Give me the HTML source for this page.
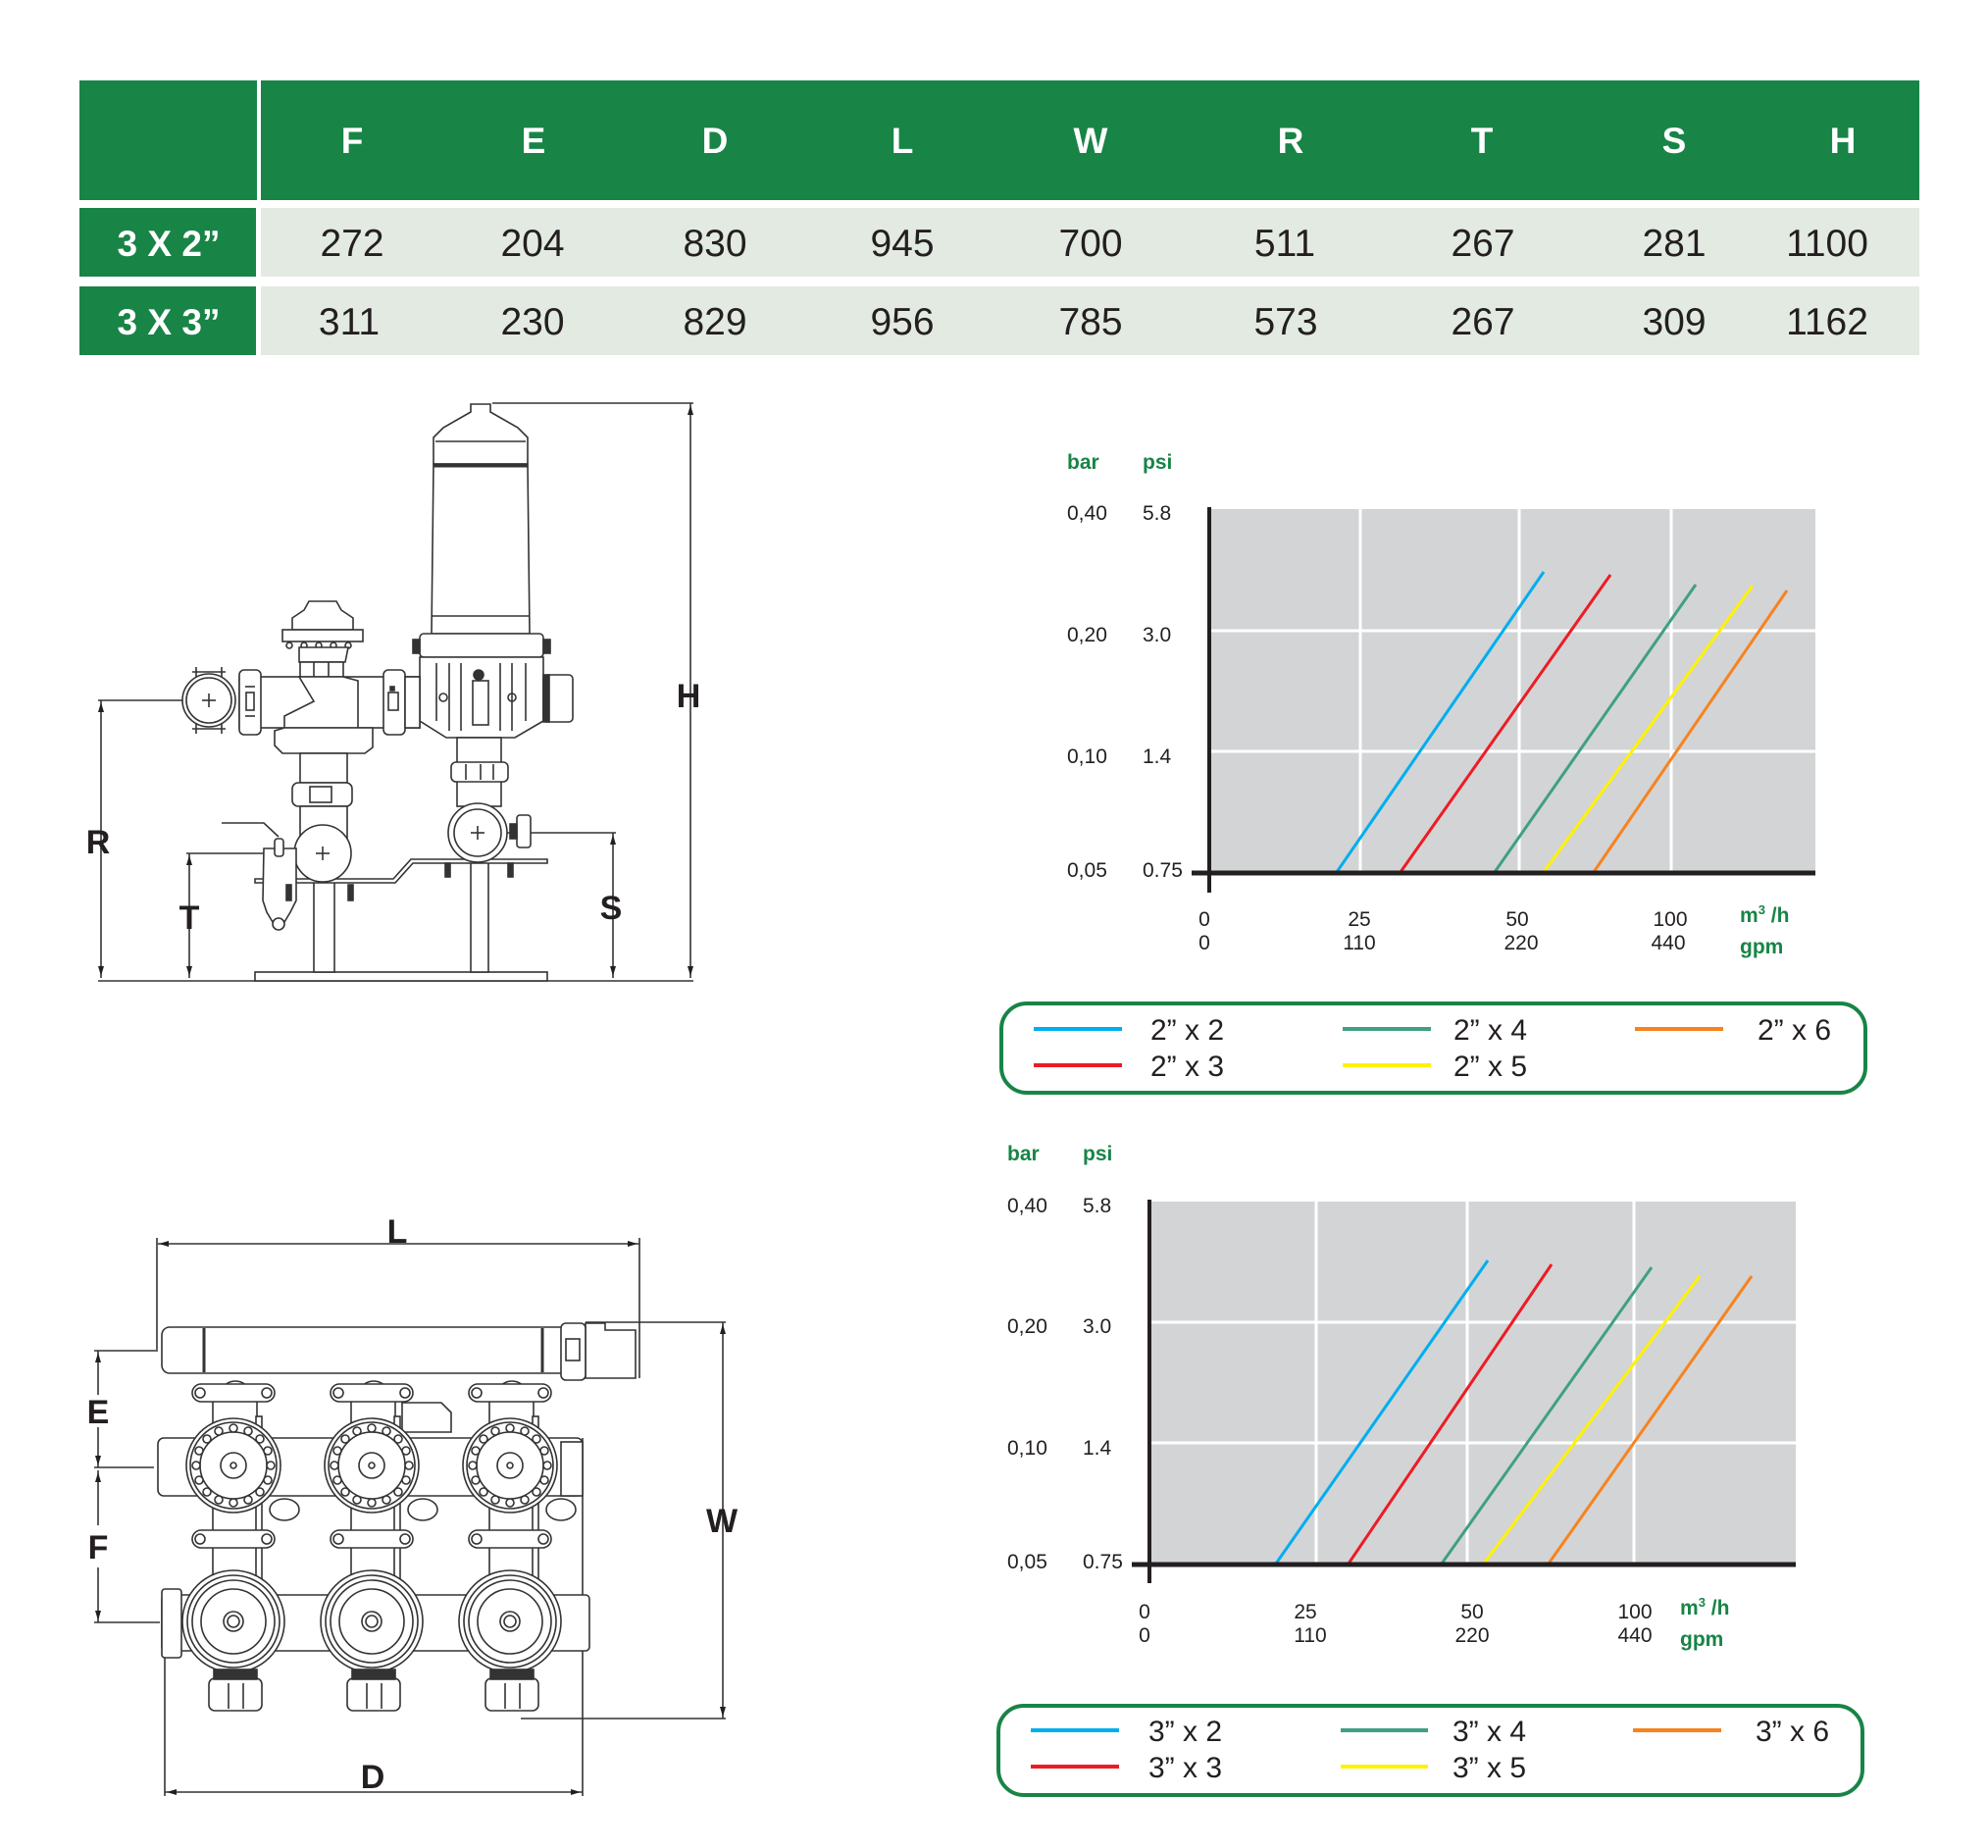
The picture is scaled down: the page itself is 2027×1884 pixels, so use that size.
<!DOCTYPE html>
<html><head><meta charset="utf-8"><style>
html,body{margin:0;padding:0;background:#fff;}
svg{display:block;}
</style></head><body>
<svg width="2027" height="1884" viewBox="0 0 2027 1884" xmlns="http://www.w3.org/2000/svg" font-family="Liberation Sans, Arial, sans-serif">
<rect width="2027" height="1884" fill="#fff"/>
<!-- TABLE -->
<rect x="81" y="82" width="1876" height="122" fill="#188446"/>
<rect x="262" y="82" width="4" height="122" fill="#fff"/>
<rect x="81" y="212" width="180" height="70" fill="#188446"/>
<rect x="266" y="212" width="1691" height="70" fill="#e3eae1"/>
<rect x="81" y="292" width="180" height="70" fill="#188446"/>
<rect x="266" y="292" width="1691" height="70" fill="#e3eae1"/>
<g fill="#fff" font-weight="bold" font-size="37" text-anchor="middle">
<text x="359" y="156">F</text><text x="544" y="156">E</text><text x="729" y="156">D</text><text x="920" y="156">L</text><text x="1112" y="156">W</text><text x="1316" y="156">R</text><text x="1511" y="156">T</text><text x="1707" y="156">S</text><text x="1879" y="156">H</text>
<text x="172" y="261">3 X 2”</text><text x="172" y="341">3 X 3”</text>
</g>
<g fill="#231f20" font-size="39" text-anchor="middle">
<text x="359" y="261">272</text><text x="543" y="261">204</text><text x="729" y="261">830</text><text x="920" y="261">945</text><text x="1112" y="261">700</text><text x="1310" y="261">511</text><text x="1512" y="261">267</text><text x="1707" y="261">281</text><text x="1863" y="261">1100</text>
<text x="356" y="341">311</text><text x="543" y="341">230</text><text x="729" y="341">829</text><text x="920" y="341">956</text><text x="1112" y="341">785</text><text x="1311" y="341">573</text><text x="1512" y="341">267</text><text x="1707" y="341">309</text><text x="1863" y="341">1162</text>
</g>

<!-- CHART 1 -->
<rect x="1233" y="519" width="618" height="371" fill="#d3d4d6"/>
<g stroke="#fff" stroke-width="3">
<line x1="1387" y1="519" x2="1387" y2="890"/><line x1="1549" y1="519" x2="1549" y2="890"/><line x1="1704" y1="519" x2="1704" y2="890"/>
<line x1="1233" y1="643" x2="1851" y2="643"/><line x1="1233" y1="766" x2="1851" y2="766"/>
</g>
<g stroke-width="3">
<line x1="1363" y1="889" x2="1574" y2="583" stroke="#00aeef"/>
<line x1="1428" y1="889" x2="1642" y2="586" stroke="#ed1c24"/>
<line x1="1524" y1="889" x2="1729" y2="596" stroke="#3fa083"/>
<line x1="1574" y1="889" x2="1787" y2="597" stroke="#fff200"/>
<line x1="1625" y1="889" x2="1822" y2="602" stroke="#f7831f"/>
</g>
<line x1="1233" y1="517" x2="1233" y2="910" stroke="#231f20" stroke-width="4"/>
<line x1="1215" y1="890" x2="1851" y2="890" stroke="#231f20" stroke-width="5"/>
<g fill="#188446" font-weight="bold" font-size="21">
<text x="1088" y="478">bar</text><text x="1165" y="478">psi</text>
<text x="1774" y="940">m<tspan font-size="13" dy="-8">3</tspan><tspan dy="8"> /h</tspan></text><text x="1774" y="972">gpm</text>
</g>
<g fill="#231f20" font-size="21">
<text x="1088" y="530">0,40</text><text x="1165" y="530">5.8</text>
<text x="1088" y="654">0,20</text><text x="1165" y="654">3.0</text>
<text x="1088" y="778">0,10</text><text x="1165" y="778">1.4</text>
<text x="1088" y="894">0,05</text><text x="1165" y="894">0.75</text>
<g text-anchor="middle">
<text x="1228" y="944">0</text><text x="1228" y="968">0</text>
<text x="1386" y="944">25</text><text x="1386" y="968">110</text>
<text x="1547" y="944">50</text><text x="1551" y="968">220</text>
<text x="1703" y="944">100</text><text x="1701" y="968">440</text>
</g></g>
<rect x="1021" y="1023" width="881" height="91" rx="26" fill="none" stroke="#188446" stroke-width="4"/>
<g stroke-width="4">
<line x1="1054" y1="1049" x2="1144" y2="1049" stroke="#00aeef"/>
<line x1="1054" y1="1086" x2="1144" y2="1086" stroke="#ed1c24"/>
<line x1="1369" y1="1049" x2="1459" y2="1049" stroke="#3fa083"/>
<line x1="1369" y1="1086" x2="1459" y2="1086" stroke="#fff200"/>
<line x1="1667" y1="1049" x2="1757" y2="1049" stroke="#f7831f"/>
</g>
<g fill="#231f20" font-size="30">
<text x="1173" y="1060">2” x 2</text><text x="1173" y="1097">2” x 3</text>
<text x="1482" y="1060">2” x 4</text><text x="1482" y="1097">2” x 5</text>
<text x="1792" y="1060">2” x 6</text>
</g>

<!-- CHART 2 -->
<rect x="1172" y="1225" width="659" height="370" fill="#d3d4d6"/>
<g stroke="#fff" stroke-width="3">
<line x1="1342" y1="1225" x2="1342" y2="1595"/><line x1="1496" y1="1225" x2="1496" y2="1595"/><line x1="1666" y1="1225" x2="1666" y2="1595"/>
<line x1="1172" y1="1348" x2="1831" y2="1348"/><line x1="1172" y1="1471" x2="1831" y2="1471"/>
</g>
<g stroke-width="3">
<line x1="1301" y1="1594" x2="1517" y2="1285" stroke="#00aeef"/>
<line x1="1375" y1="1594" x2="1582" y2="1289" stroke="#ed1c24"/>
<line x1="1470" y1="1594" x2="1684" y2="1292" stroke="#3fa083"/>
<line x1="1513" y1="1594" x2="1733" y2="1301" stroke="#fff200"/>
<line x1="1579" y1="1594" x2="1786" y2="1301" stroke="#f7831f"/>
</g>
<line x1="1172" y1="1223" x2="1172" y2="1614" stroke="#231f20" stroke-width="4"/>
<line x1="1154" y1="1595" x2="1831" y2="1595" stroke="#231f20" stroke-width="5"/>
<g fill="#188446" font-weight="bold" font-size="21">
<text x="1027" y="1183">bar</text><text x="1104" y="1183">psi</text>
<text x="1713" y="1646">m<tspan font-size="13" dy="-8">3</tspan><tspan dy="8"> /h</tspan></text><text x="1713" y="1678">gpm</text>
</g>
<g fill="#231f20" font-size="21">
<text x="1027" y="1236">0,40</text><text x="1104" y="1236">5.8</text>
<text x="1027" y="1359">0,20</text><text x="1104" y="1359">3.0</text>
<text x="1027" y="1483">0,10</text><text x="1104" y="1483">1.4</text>
<text x="1027" y="1599">0,05</text><text x="1104" y="1599">0.75</text>
<g text-anchor="middle">
<text x="1167" y="1650">0</text><text x="1167" y="1674">0</text>
<text x="1331" y="1650">25</text><text x="1336" y="1674">110</text>
<text x="1501" y="1650">50</text><text x="1501" y="1674">220</text>
<text x="1667" y="1650">100</text><text x="1667" y="1674">440</text>
</g></g>
<rect x="1018" y="1739" width="881" height="91" rx="26" fill="none" stroke="#188446" stroke-width="4"/>
<g stroke-width="4">
<line x1="1051" y1="1764" x2="1141" y2="1764" stroke="#00aeef"/>
<line x1="1051" y1="1801" x2="1141" y2="1801" stroke="#ed1c24"/>
<line x1="1367" y1="1764" x2="1456" y2="1764" stroke="#3fa083"/>
<line x1="1367" y1="1801" x2="1456" y2="1801" stroke="#fff200"/>
<line x1="1665" y1="1764" x2="1755" y2="1764" stroke="#f7831f"/>
</g>
<g fill="#231f20" font-size="30">
<text x="1171" y="1775">3” x 2</text><text x="1171" y="1812">3” x 3</text>
<text x="1481" y="1775">3” x 4</text><text x="1481" y="1812">3” x 5</text>
<text x="1790" y="1775">3” x 6</text>
</g>

<!-- DRAWING 1 (side view) -->
<g fill="none" stroke="#333" stroke-width="1.6">
<!-- dims -->
<line x1="502" y1="411" x2="707" y2="411"/><line x1="704" y1="411" x2="704" y2="997"/>
<line x1="100" y1="1000" x2="707" y2="1000"/>
<line x1="100" y1="714" x2="213" y2="714"/><line x1="103" y1="714" x2="103" y2="997"/>
<line x1="190" y1="870" x2="329" y2="870"/><line x1="193" y1="870" x2="193" y2="997"/>
<line x1="487" y1="849" x2="628" y2="849"/><line x1="625" y1="849" x2="625" y2="997"/>
<!-- base -->
<rect x="260" y="991" width="298" height="9" fill="#fff"/>
<!-- stands -->
<rect x="320" y="898" width="21" height="93" fill="#fff"/>
<rect x="480" y="878" width="18" height="113" fill="#fff"/>
<!-- plate -->
<path d="M260 896 L401 896 L419 876 L558 876 L558 880 L421 880 L403 900 L260 900 Z" fill="#fff"/>
<!-- filter top -->
<path d="M480 412 L500 412 L500 420 L528 436 L538 446 L538 473 L442 473 L442 446 L452 436 L480 420 Z" fill="#fff"/>
<line x1="444" y1="450" x2="536" y2="450"/>
<path d="M442 473 L538 473 L540 646 L440 646 Z" fill="#fff"/>
<line x1="442" y1="475" x2="538" y2="475" stroke-width="3"/>
<line x1="440" y1="628" x2="540" y2="628"/>
<rect x="428" y="646" width="126" height="24" rx="4" fill="#fff"/>
<rect x="421" y="652" width="7" height="14" fill="#333"/><rect x="554" y="652" width="7" height="14" fill="#333"/>
<path d="M428 670 L554 670 L554 735 L525 752 L455 752 L428 735 Z" fill="#fff"/>
<line x1="445" y1="676" x2="445" y2="735"/><line x1="458" y1="676" x2="458" y2="745"/><line x1="470" y1="676" x2="470" y2="745"/><line x1="510" y1="676" x2="510" y2="745"/><line x1="522" y1="676" x2="522" y2="745"/><line x1="536" y1="676" x2="536" y2="735"/>
<rect x="482" y="694" width="16" height="45"/>
<circle cx="488" cy="688" r="5" fill="#333"/>
<circle cx="452" cy="711" r="4"/><circle cx="522" cy="711" r="4"/>
<rect x="554" y="688" width="30" height="48" rx="4" fill="#fff"/><rect x="554" y="688" width="6" height="48" fill="#333"/>
<rect x="466" y="752" width="45" height="70" fill="#fff"/>
<rect x="460" y="777" width="58" height="20" rx="5" fill="#fff"/>
<line x1="475" y1="779" x2="475" y2="795"/><line x1="490" y1="779" x2="490" y2="795"/><line x1="503" y1="779" x2="503" y2="795"/>
<!-- right circle -->
<circle cx="487" cy="849" r="30" fill="#fff"/><circle cx="487" cy="849" r="24"/>
<line x1="480" y1="849" x2="494" y2="849"/><line x1="487" y1="842" x2="487" y2="856"/>
<rect x="527" y="831" width="14" height="33" rx="3" fill="#fff"/><rect x="520" y="840" width="7" height="15" fill="#333"/>
<rect x="454" y="880" width="5" height="14" fill="#333"/><rect x="518" y="880" width="5" height="14" fill="#333"/>
<!-- left manifold pipe -->
<rect x="244" y="690" width="184" height="52" fill="#fff"/>
<rect x="244" y="683" width="22" height="66" rx="5" fill="#fff"/>
<rect x="391" y="683" width="22" height="66" rx="5" fill="#fff"/>
<rect x="413" y="690" width="15" height="52" fill="#fff"/>
<line x1="250" y1="700" x2="260" y2="700"/><line x1="250" y1="730" x2="260" y2="730"/><rect x="251" y="706" width="8" height="18"/>
<rect x="396" y="706" width="10" height="18"/><rect x="398" y="700" width="4" height="4" fill="#333"/>
<!-- left circle & flange -->
<circle cx="213" cy="714" r="27" fill="#fff"/><circle cx="213" cy="714" r="23"/>
<line x1="206" y1="714" x2="220" y2="714"/><line x1="213" y1="707" x2="213" y2="721"/>
<path d="M196 685 L230 685 M196 743 L230 743 M200 680 L200 690 M226 680 L226 690 M200 738 L200 748 M226 738 L226 748"/>
<!-- valve -->
<path d="M315 613 L343 613 L348 622 L360 630 L360 642 L298 642 L298 630 L310 622 Z" fill="#fff"/>
<rect x="288" y="642" width="82" height="12" fill="#fff"/>
<circle cx="295" cy="658" r="3"/><circle cx="310" cy="658" r="3"/><circle cx="325" cy="658" r="3"/><circle cx="340" cy="658" r="3"/><circle cx="355" cy="658" r="3"/>
<path d="M305 660 L355 660 L352 675 L305 675 Z" fill="#fff"/>
<rect x="306" y="675" width="44" height="15" fill="#fff"/>
<line x1="320" y1="675" x2="320" y2="690"/><line x1="335" y1="675" x2="335" y2="690"/>
<path d="M305 690 L350 690 L365 694 L365 742 L290 742 L290 730 L320 715 Z" fill="#fff"/>
<path d="M290 742 L380 742 L380 762 L372 768 L288 768 L280 760 L280 745 Z" fill="#fff"/>
<rect x="306" y="768" width="48" height="30" fill="#fff"/>
<rect x="298" y="798" width="61" height="24" rx="6" fill="#fff"/>
<rect x="316" y="802" width="22" height="16"/>
<rect x="306" y="822" width="48" height="38" fill="#fff"/>
<circle cx="329" cy="870" r="29" fill="#fff"/>
<line x1="322" y1="870" x2="336" y2="870"/><line x1="329" y1="863" x2="329" y2="877"/>
<!-- air valve -->
<path d="M269 865 L302 865 L302 918 L296 930 L290 940 L278 940 L272 930 L268 918 Z" fill="#fff"/>
<circle cx="284" cy="942" r="6" fill="#fff"/>
<rect x="280" y="855" width="9" height="18" rx="3" fill="#fff"/>
<polyline points="226,839 269,839 284,853"/>
<rect x="292" y="902" width="5" height="16" fill="#333"/><rect x="355" y="902" width="5" height="16" fill="#333"/>
</g>
<g fill="#231f20" font-weight="bold" font-size="34" text-anchor="middle">
<text x="702" y="721">H</text><text x="100" y="870">R</text><text x="193" y="947">T</text><text x="623" y="937">S</text>
</g>
<g fill="#231f20">
<path d="M704 413 l-3 10 h6z M704 995 l-3 -10 h6z M103 716 l-3 10 h6z M103 995 l-3 -10 h6z M193 872 l-3 10 h6z M193 995 l-3 -10 h6z M625 851 l-3 10 h6z M625 995 l-3 -10 h6z"/>
</g>

<!-- DRAWING 2 (top view) -->
<defs>
<g id="unit">
<rect x="-21" y="-74" width="45" height="210" fill="#fff"/>
<rect x="23" y="-50" width="6" height="175" fill="#fff"/>
<path d="M-12 -74 a14 12 0 0 1 28 0" fill="#fff"/>
<rect x="-42" y="-83" width="84" height="18" rx="9" fill="#fff"/>
<circle cx="-34" cy="-74" r="5"/><circle cx="34" cy="-74" r="5"/>
<circle cx="0" cy="0" r="48" fill="#fff"/>
<circle cx="0" cy="0" r="44"/>
<circle cx="0" cy="0" r="34"/>
<g fill="#fff"><circle cx="38" cy="0" r="4"/><circle cx="-38" cy="0" r="4"/><circle cx="0" cy="38" r="4"/><circle cx="0" cy="-38" r="4"/><circle cx="27" cy="27" r="4"/><circle cx="-27" cy="27" r="4"/><circle cx="27" cy="-27" r="4"/><circle cx="-27" cy="-27" r="4"/><circle cx="35" cy="15" r="4"/><circle cx="-35" cy="15" r="4"/><circle cx="35" cy="-15" r="4"/><circle cx="-35" cy="-15" r="4"/><circle cx="15" cy="35" r="4"/><circle cx="-15" cy="35" r="4"/><circle cx="15" cy="-35" r="4"/><circle cx="-15" cy="-35" r="4"/></g>
<circle cx="0" cy="0" r="13"/><circle cx="0" cy="0" r="3"/>
<ellipse cx="52" cy="45" rx="15" ry="11" fill="#fff"/>
<rect x="-42" y="66" width="84" height="18" rx="9" fill="#fff"/>
<circle cx="-34" cy="75" r="5"/><circle cx="34" cy="75" r="5"/>
<circle cx="0" cy="159" r="52" fill="#fff"/>
<circle cx="0" cy="159" r="47"/><circle cx="0" cy="159" r="42"/><circle cx="0" cy="159" r="33"/>
<circle cx="0" cy="159" r="10"/><circle cx="0" cy="159" r="6"/>
<rect x="-25" y="217" width="54" height="33" rx="6" fill="#fff"/>
<rect x="-20" y="208" width="44" height="10" fill="#333"/>
<line x1="-5" y1="222" x2="-5" y2="248"/><line x1="10" y1="222" x2="10" y2="248"/>
</g>
</defs>
<g fill="none" stroke="#333" stroke-width="1.6">
<!-- dims -->
<line x1="161" y1="1268" x2="652" y2="1268"/><line x1="160" y1="1262" x2="160" y2="1376"/><line x1="652" y1="1262" x2="652" y2="1405"/>
<line x1="597" y1="1348" x2="740" y2="1348"/><line x1="531" y1="1752" x2="740" y2="1752"/><line x1="737" y1="1348" x2="737" y2="1752"/>
<line x1="96" y1="1377" x2="161" y2="1377"/><line x1="96" y1="1496" x2="157" y2="1496"/><line x1="96" y1="1654" x2="163" y2="1654"/>
<line x1="100" y1="1377" x2="100" y2="1422"/><line x1="100" y1="1455" x2="100" y2="1496"/>
<line x1="100" y1="1499" x2="100" y2="1555"/><line x1="100" y1="1598" x2="100" y2="1654"/>
<line x1="168" y1="1687" x2="168" y2="1831"/><line x1="594" y1="1466" x2="594" y2="1831"/><line x1="168" y1="1827" x2="594" y2="1827"/>
<!-- top pipe -->
<rect x="165" y="1353" width="452" height="47" rx="8" fill="#fff"/>
<line x1="208" y1="1354" x2="208" y2="1399" stroke-width="3"/><line x1="553" y1="1354" x2="553" y2="1399" stroke-width="3"/>
<path d="M597 1349 L617 1349 L617 1356 L648 1356 L648 1405 L617 1405 L597 1405 Z" fill="#fff"/>
<rect x="572" y="1349" width="25" height="58" rx="5" fill="#fff"/><rect x="577" y="1365" width="14" height="22"/>
<!-- manifolds -->
<rect x="161" y="1466" width="433" height="59" rx="6" fill="#fff"/>
<rect x="165" y="1626" width="436" height="57" rx="4" fill="#fff"/>
<rect x="165" y="1620" width="20" height="70" rx="3" fill="#fff"/>
<rect x="572" y="1470" width="22" height="55" fill="#fff"/>
<path d="M410 1430 L450 1430 L460 1440 L460 1460 L410 1460 Z" fill="#fff"/>
<use href="#unit" x="238" y="1494"/>
<use href="#unit" x="379" y="1494"/>
<use href="#unit" x="520" y="1494"/>
</g>
<g fill="#231f20" font-weight="bold" font-size="34" text-anchor="middle">
<text x="405" y="1267">L</text><text x="736" y="1562">W</text><text x="100" y="1451">E</text><text x="100" y="1589">F</text><text x="380" y="1823">D</text>
</g>
<g fill="#231f20">
<path d="M162 1268 l10 -3 v6z M650 1268 l-10 -3 v6z M737 1350 l-3 10 h6z M737 1750 l-3 -10 h6z M100 1379 l-3 10 h6z M100 1494 l-3 -10 h6z M100 1501 l-3 10 h6z M100 1652 l-3 -10 h6z M170 1827 l10 -3 v6z M592 1827 l-10 -3 v6z"/>
</g>
</svg>
</body></html>
